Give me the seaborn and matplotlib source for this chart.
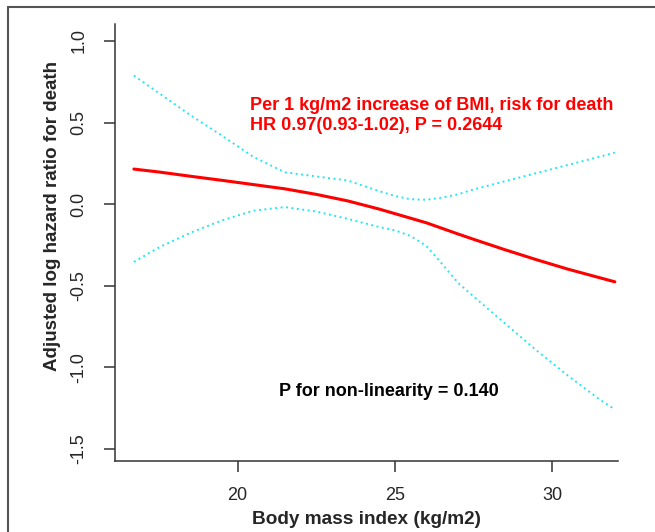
import numpy as np
import matplotlib
matplotlib.use("Agg")
import matplotlib.pyplot as plt
import seaborn as sns
from matplotlib.lines import Line2D

# BMI grid and curves
bmi = [16.7, 17.5, 18.5, 19.5, 20.5, 21.5, 22.5, 23.5, 24.5, 25.0, 25.5, 26.0,
       26.5, 27.0, 27.5, 28.5, 29.5, 30.5, 31.5, 32.0]
fit = [0.215, 0.197, 0.171, 0.146, 0.120, 0.094, 0.060, 0.020, -0.030, -0.058,
       -0.086, -0.114, -0.148, -0.182, -0.215, -0.279, -0.340, -0.398, -0.450, -0.476]
upper = [0.788, 0.680, 0.545, 0.420, 0.290, 0.195, 0.170, 0.145, 0.080, 0.050,
         0.030, 0.027, 0.040, 0.060, 0.090, 0.140, 0.190, 0.240, 0.290, 0.316]
lower = [-0.354, -0.265, -0.175, -0.100, -0.040, -0.018, -0.045, -0.090, -0.140,
         -0.160, -0.195, -0.255, -0.365, -0.480, -0.565, -0.730, -0.895, -1.050, -1.195, -1.258]

x_ticks = [20, 25, 30]
y_ticks = [-1.5, -1.0, -0.5, 0.0, 0.5, 1.0]

sns.set_style("ticks")
plt.rcParams['font.family'] = ['Liberation Sans', 'DejaVu Sans']
plt.rcParams['axes.unicode_minus'] = False

W, H = 655, 532
fig = plt.figure(figsize=(6.55, 5.32), dpi=100)
ax = fig.add_axes([115 / W, 1 - 461 / H, (618 - 115) / W, (461 - 24) / H])

sns.lineplot(x=bmi, y=upper, color="#22e8ee", lw=1.4, linestyle=(0, (1, 1.8)), ax=ax)
sns.lineplot(x=bmi, y=lower, color="#22e8ee", lw=1.4, linestyle=(0, (1, 1.8)), ax=ax)
sns.lineplot(x=bmi, y=fit, color="#ff0000", lw=2.2, ax=ax)

ax.set_xlim(16.1, 32.1)
ax.set_ylim(-1.574, 1.104)
ax.set_xticks(x_ticks)
ax.set_xticklabels([str(t) for t in x_ticks], fontsize=13)
ax.set_yticks(y_ticks)
ax.set_yticklabels([f"{t:.1f}" for t in y_ticks], fontsize=13, rotation=90, va="center")
ax.tick_params(direction="out", length=8, width=1.1, color="#333333")
ax.tick_params(axis="x", pad=11)
ax.tick_params(axis="y", pad=12)
for s in ["top", "right"]:
    ax.spines[s].set_visible(False)
for s in ["left", "bottom"]:
    ax.spines[s].set_color("#333333")
    ax.spines[s].set_linewidth(1.1)
ax.set_xlabel("")
ax.set_ylabel("")

fig.text(366.5 / W, 1 - 520 / H, "Body mass index (kg/m2)", ha="center", va="center",
         fontsize=13.7, fontweight="bold")
fig.text(53 / W, 1 - 216 / H, "Adjusted log hazard ratio for death", ha="center", va="center",
         rotation=90, fontsize=13.5, fontweight="bold")

fig.text(250 / W, 1 - 110 / H, "Per 1 kg/m2 increase of BMI, risk for death",
         ha="left", va="baseline", fontsize=13, fontweight="bold", color="#ff0000")
fig.text(250 / W, 1 - 130 / H, "HR 0.97(0.93-1.02), P = 0.2644",
         ha="left", va="baseline", fontsize=13, fontweight="bold", color="#ff0000")
fig.text(279 / W, 1 - 396 / H, "P for non-linearity = 0.140",
         ha="left", va="baseline", fontsize=13, fontweight="bold", color="black")

# outer frame (top and left edges visible)
fig.add_artist(Line2D([8 / W, 8 / W], [0, 1 - 6.5 / H], transform=fig.transFigure,
                      color="#555555", lw=1.5))
fig.add_artist(Line2D([8 / W, 1], [1 - 6.5 / H, 1 - 6.5 / H], transform=fig.transFigure,
                      color="#555555", lw=1.5))

fig.savefig("out.png", dpi=100)
